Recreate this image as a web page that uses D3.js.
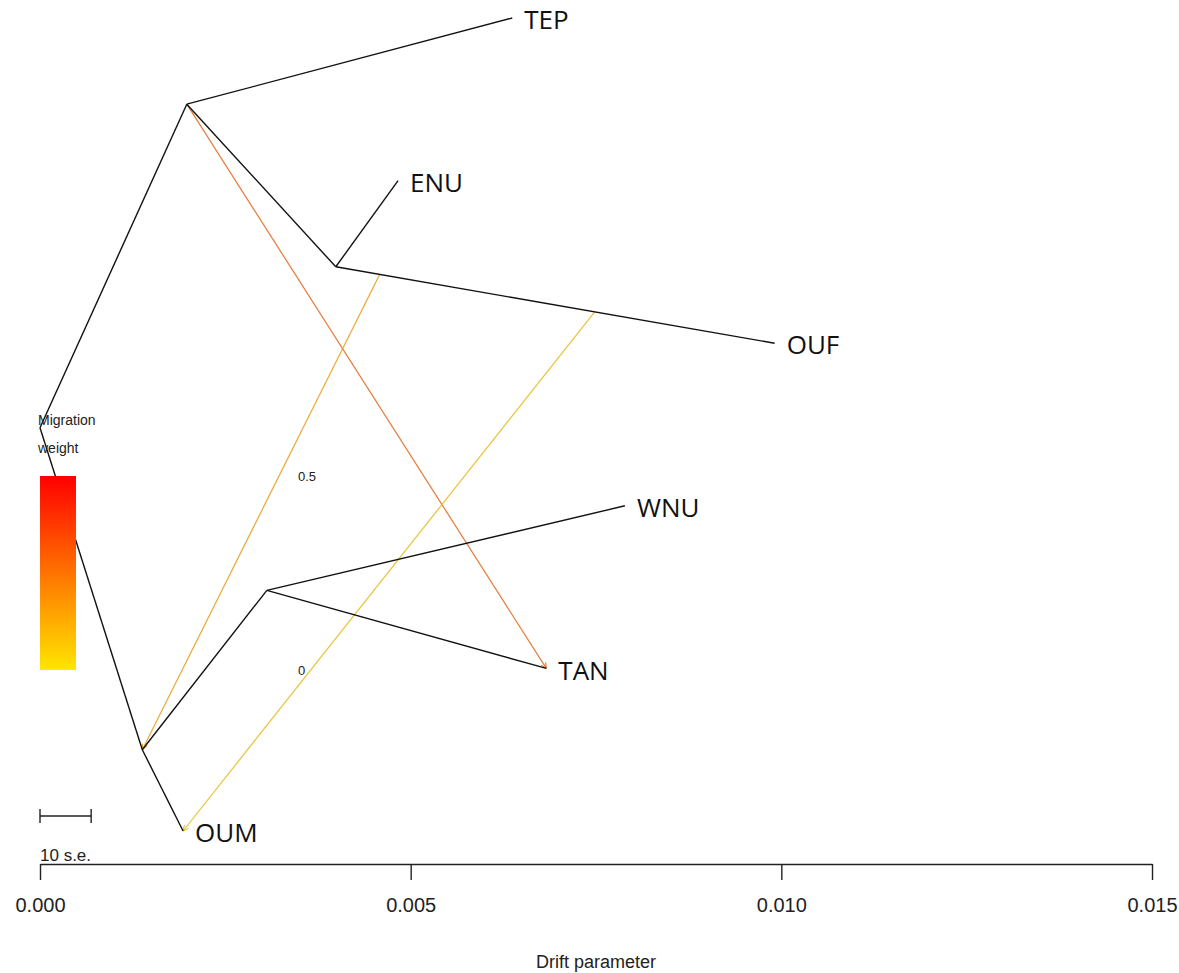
<!DOCTYPE html>
<html><head><meta charset="utf-8">
<script src="https://cdn.jsdelivr.net/npm/d3@7"></script>
<style>body{margin:0;background:#fff}</style>
</head><body>
<svg id="c" width="1179" height="973"></svg>
<script>
// Tree nodes: drift (x) and vertical order (y)
const nodeNames = ["root","A","C","B","D","TEP","ENU","OUF","WNU","TAN","OUM"];
const nodeDrift = [0.0,0.00198,0.00399,0.00138,0.00306,0.00637,0.00483,0.00991,0.00789,0.00683,0.00193];
const nodeOrder = [3.48,5.47,4.47,1.5,2.48,6,5,4,3,2,1];
const tips = ["TEP","ENU","OUF","WNU","TAN","OUM"];
// Tree edges parent -> child
const edgeParent = ["root","root","A","A","C","C","B","B","D","D"];
const edgeChild  = ["A","B","TEP","C","ENU","OUF","D","OUM","WNU","TAN"];
// Migration edges: source on edge (parent->child at fraction), target node, weight
const migFromParent = ["A","C","C"];
const migFromChild  = ["A","OUF","OUF"];
const migFromFrac   = [0,0.10,0.59];
const migTo         = ["TAN","B","OUM"];
const migWeight     = [0.30,0.13,0.04];
const xTicks = [0.000,0.005,0.010,0.015];
const xTickLabels = ["0.000","0.005","0.010","0.015"];
const legendTicks = [0,0.5];
const seBar = 0.00069;

const svg = d3.select("#c");
const x = d3.scaleLinear().domain([0,0.015]).range([40,1152]);
const y = d3.scaleLinear().domain([1,6]).range([831,18]);
const col = d3.scaleLinear().domain([0,0.5]).range(["#ffe600","#ff0000"]);
const idx = n => nodeNames.indexOf(n);
const px = n => x(nodeDrift[idx(n)]);
const py = n => y(nodeOrder[idx(n)]);

const defs = svg.append("defs");
const grad = defs.append("linearGradient").attr("id","g").attr("x1",0).attr("y1",1).attr("x2",0).attr("y2",0);
d3.range(0,1.01,0.1).forEach(t=>grad.append("stop").attr("offset",t).attr("stop-color",col(t*0.5)));

// migration edges
migTo.forEach((t,i)=>{
  const p=migFromParent[i], c=migFromChild[i], f=migFromFrac[i];
  const x1 = px(p)+(px(c)-px(p))*f, y1 = py(p)+(py(c)-py(p))*f;
  const x2 = px(t), y2 = py(t);
  const c1 = d3.interpolateRgb(col(migWeight[i]), "#8a6a55")(0.25);
  svg.append("line").attr("x1",x1).attr("y1",y1).attr("x2",x2).attr("y2",y2)
    .attr("stroke",c1).attr("stroke-width",1.2).attr("stroke-opacity",0.85);
  const a = Math.atan2(y2-y1,x2-x1), L=6, w=0.45;
  svg.append("path").attr("d",`M${x2-L*Math.cos(a-w)},${y2-L*Math.sin(a-w)}L${x2},${y2}L${x2-L*Math.cos(a+w)},${y2-L*Math.sin(a+w)}`)
    .attr("fill","none").attr("stroke",c1).attr("stroke-width",1);
});

// tree edges
edgeParent.forEach((p,i)=>{
  const c=edgeChild[i];
  svg.append("line").attr("x1",px(p)).attr("y1",py(p)).attr("x2",px(c)).attr("y2",py(c))
    .attr("stroke","#111").attr("stroke-width",1.4);
});

// tip labels
tips.forEach(t=>{
  svg.append("text").attr("x",px(t)+12).attr("y",py(t)+2).attr("dy","0.35em")
    .attr("font-family","Open Sans, sans-serif").attr("font-size",26).attr("fill","#111").text(t);
});

// legend
const ly = d3.scaleLinear().domain([0,0.5]).range([670,476]);
svg.append("rect").attr("x",40).attr("y",ly(0.5)).attr("width",36).attr("height",ly(0)-ly(0.5)).attr("fill","url(#g)");
svg.append("text").attr("x",38).attr("y",425).attr("font-family","Arial, sans-serif").attr("font-size",14).attr("fill","#222").text("Migration");
svg.append("text").attr("x",38).attr("y",453).attr("font-family","Arial, sans-serif").attr("font-size",14).attr("fill","#222").text("weight");
legendTicks.forEach(v=>{
  svg.append("text").attr("x",298).attr("y",ly(v)).attr("dy","0.35em").attr("font-family","Arial, sans-serif").attr("font-size",13).attr("fill","#222").text(String(v));
});

// scale bar
const sy=816;
svg.append("path").attr("d",`M${x(0)},${sy}H${x(seBar)}M${x(0)},${sy-7}V${sy+7}M${x(seBar)},${sy-7}V${sy+7}`)
  .attr("stroke","#222").attr("stroke-width",1.4).attr("fill","none");
svg.append("text").attr("x",x(0)).attr("y",861).attr("font-family","Arial, sans-serif").attr("font-size",17).attr("fill","#222").text("10 s.e.");

// x axis
const ax = svg.append("g").attr("transform","translate(0,864)")
  .call(d3.axisBottom(x).tickValues(xTicks).tickFormat((d,i)=>xTickLabels[i]).tickSize(16).tickSizeOuter(0));
ax.select(".domain").attr("stroke","#222").attr("stroke-width",1.4);
ax.selectAll(".tick line").attr("stroke","#222").attr("stroke-width",1.4);
ax.selectAll(".tick text").attr("y",41).attr("dy","0.35em").attr("font-family","Arial, sans-serif").attr("font-size",20).attr("fill","#222");
svg.append("text").attr("x",596).attr("y",968).attr("text-anchor","middle").attr("font-family","Arial, sans-serif").attr("font-size",18).attr("fill","#222").text("Drift parameter");
</script>
</body></html>
